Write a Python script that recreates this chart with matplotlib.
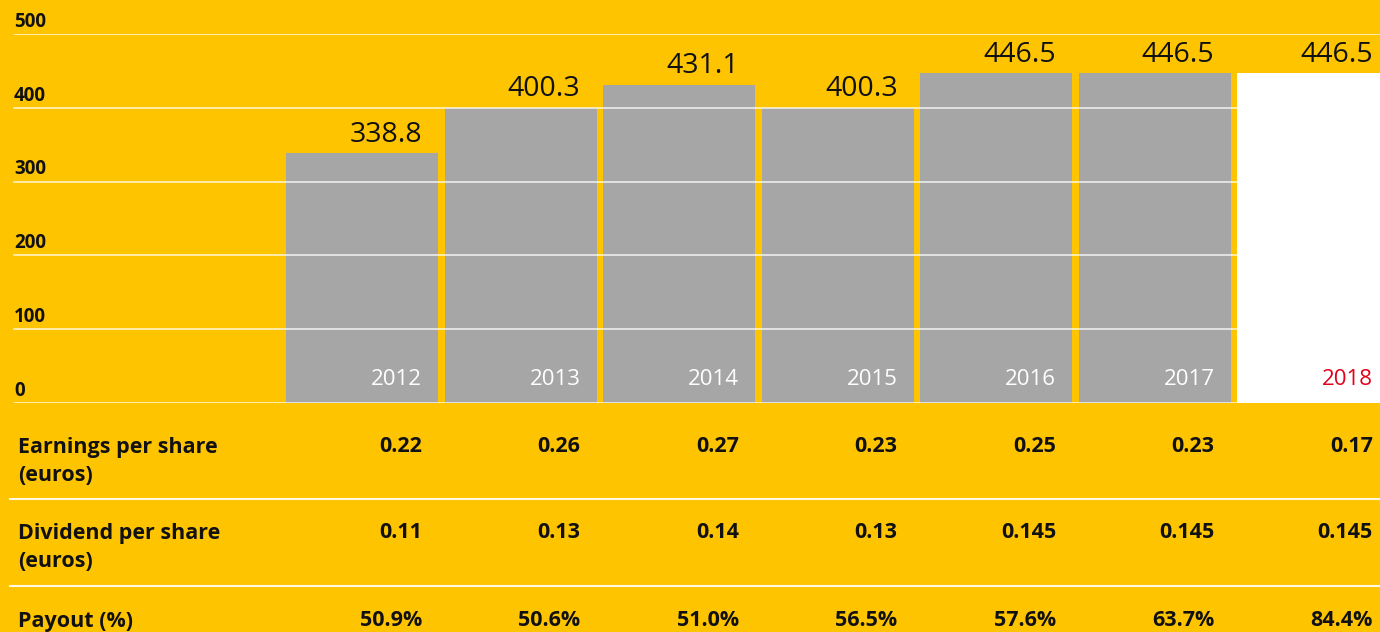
import matplotlib
matplotlib.use("Agg")
import matplotlib.pyplot as plt
from matplotlib.transforms import blended_transform_factory
from matplotlib.lines import Line2D

years = ["2012", "2013", "2014", "2015", "2016", "2017", "2018"]
values = [338.8, 400.3, 431.1, 400.3, 446.5, 446.5, 446.5]
value_labels = ["338.8", "400.3", "431.1", "400.3", "446.5", "446.5", "446.5"]
yticks = [0, 100, 200, 300, 400, 500]
row_labels = ["Earnings per share\n(euros)", "Dividend per share\n(euros)", "Payout (%)"]
eps = ["0.22", "0.26", "0.27", "0.23", "0.25", "0.23", "0.17"]
dps = ["0.11", "0.13", "0.14", "0.13", "0.145", "0.145", "0.145"]
payout = ["50.9%", "50.6%", "51.0%", "56.5%", "57.6%", "63.7%", "84.4%"]

YELLOW = "#FFC400"
GRAY = "#A6A6A6"
RED = "#E2001A"
FONT = ["Open Sans", "DejaVu Sans"]
plt.rcParams["font.family"] = FONT

W, H = 1380, 632
fig = plt.figure(figsize=(W / 100, H / 100), dpi=100, facecolor=YELLOW)
y0_px, y500_px = 403, 34
ax = fig.add_axes([0, (H - y0_px) / H, 1, (y0_px - y500_px) / H])
ax.set_facecolor(YELLOW)
for s in ax.spines.values():
    s.set_visible(False)
ax.set_xticks([])
ax.set_yticks([])

step = 158.5
c0 = 362
ax.set_xlim(-c0 / step, (W - c0) / step)
ax.set_ylim(0, 500)
width = 152 / step

x = list(range(len(years)))
colors = [GRAY] * (len(years) - 1) + ["white"]
ax.bar(x, values, width=width, color=colors, zorder=2)

# gridlines on top of bars
for t in yticks:
    ax.axhline(t, xmin=14 / W, xmax=1, color="white", lw=1.1, alpha=0.85, zorder=3)
    ax.text(14 / W, t + 3, str(t), transform=blended_transform_factory(ax.transAxes, ax.transData),
            ha="left", va="bottom", fontsize=13.5, fontweight="bold", color="#111111")

off = 16 / step
for i, (v, lab, yr) in enumerate(zip(values, value_labels, years)):
    xr = i + width / 2 - off
    ax.text(xr, v + 6, lab, ha="right", va="bottom", fontsize=20.5, color="#111111", zorder=4, clip_on=False)
    ax.text(xr, 17, yr, ha="right", va="bottom", fontsize=16,
            color=(RED if i == len(years) - 1 else "white"), zorder=4)

# table
tr = blended_transform_factory(ax.transData, fig.transFigure)
def fy(px):
    return 1 - px / H

rows = [eps, dps, payout]
row_y = [447, 533, 621]
for r, (lab, data, ypx) in enumerate(zip(row_labels, rows, row_y)):
    fig.text(18 / W, fy(ypx - 10), lab, ha="left", va="top", fontsize=15.5, fontweight="bold",
             color="#111111", linespacing=1.45)
    for i, val in enumerate(data):
        ax.text(i + width / 2 - off, fy(ypx), val, transform=tr, ha="right", va="center",
                fontsize=15.5, fontweight="bold", color="#111111", clip_on=False)

for ypx in [499, 586]:
    fig.add_artist(Line2D([10 / W, 1], [fy(ypx), fy(ypx)], transform=fig.transFigure,
                          color="white", lw=1.5, alpha=0.9))

fig.savefig("out.png", dpi=100, facecolor=YELLOW)
